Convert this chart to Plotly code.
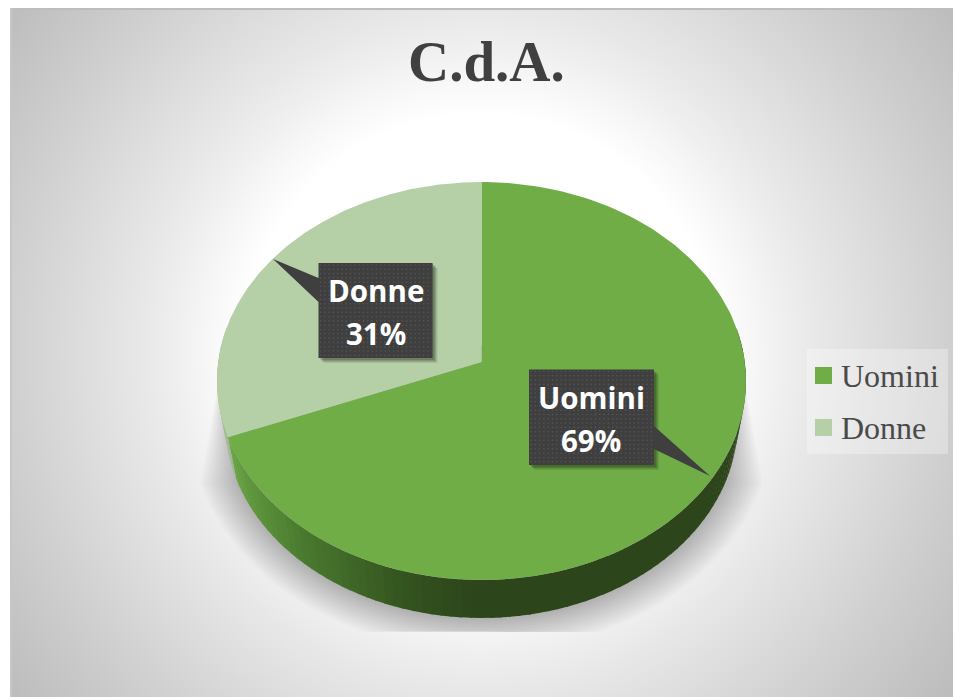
import base64
import numpy as np
import plotly.graph_objects as go

# ---- data ----
categories = ["Uomini", "Donne"]
shares = [69, 31]
slice_colors = ["#70ad47", "#b5d0a7"]
chart_title = "C.d.A."

# ---- pie geometry (pixel-like axes; tilted projection of a circle) ----
CX, CY, RX, RY = 481.5, 381.0, 264.5, 199.0
PERSP = 0.0955
BCY, BRX, BRY = 423.0, 256.0, 195.0


def rim(t_deg, cy=CY, rx=RX, ry=RY):
    t = np.radians(np.asarray(t_deg, dtype=float))
    u, v = np.sin(t), np.cos(t)
    w = 1 + PERSP * v
    x = CX + rx * np.sqrt(1 - PERSP ** 2) * u / w
    y = cy - ry * (v + PERSP) / w
    return x, y


def centre():
    return CX, CY - RY * PERSP


angles = np.cumsum([0] + [s / sum(shares) * 360 for s in shares])
fig = go.Figure()


def poly(x, y, color):
    fig.add_trace(go.Scatter(x=list(x), y=list(y), mode="lines", fill="toself",
                             fillcolor=color, line=dict(width=0),
                             hoverinfo="skip", showlegend=False))


# ---- legend panel ----
poly([807, 948, 948, 807, 807], [349, 349, 454, 454, 349], "rgba(255,255,255,0.3)")

# ---- soft shadow under the disc: wedges at both sides that merge into a lower arc ----
SH_TOP_Y, SH_KNEE_Y, SH_FLOOR_Y = 345, 483, 632
for f in np.linspace(1, 0.02, 24):
    ry = BRY + 34 * f
    half = (CX - (240 - 40 * f))
    dy = SH_KNEE_Y - BCY
    rx = half / np.sqrt(1 - (dy / ry) ** 2)
    t0 = np.arcsin(dy / ry)
    th = np.linspace(t0, np.pi - t0, 160)
    ax = CX + rx * np.cos(th)
    ay = BCY + ry * np.sin(th)
    sx = np.r_[CX + 257, ax, CX - 257, CX + 257]
    sy = np.r_[SH_TOP_Y, np.minimum(ay, SH_FLOOR_Y), SH_TOP_Y, SH_TOP_Y]
    poly(sx, sy, "rgba(0,0,0,0.0118)")

# ---- side wall ----
wall_stops_x = [225, 245, 300, 400, 480, 950]
wall_stops = np.array([[0x6e, 0xa8, 0x47], [0x60, 0x98, 0x3e], [0x4a, 0x7a, 0x2f],
                       [0x34, 0x55, 0x20], [0x2c, 0x45, 0x1a], [0x2c, 0x45, 0x1a]])
edges = np.linspace(80, 280, 101)
for a, b in zip(edges[:-1], edges[1:]):
    ts = np.linspace(a, b + 0.3, 4)
    xt, yt = rim(ts)
    xb, yb = rim(ts, BCY, BRX, BRY)
    mid = xt.mean()
    if (a + b) / 2 > angles[1]:
        col = "#9fb892"
    else:
        rgb = [np.interp(mid, wall_stops_x, wall_stops[:, i]) for i in range(3)]
        col = "rgb(%d,%d,%d)" % tuple(rgb)
    poly(np.r_[xt, xb[::-1]], np.r_[yt, yb[::-1]], col)

# ---- top face ----
for i, name in enumerate(categories):
    ts = np.linspace(angles[i], angles[i + 1], 200)
    xs, ys = rim(ts)
    c = centre()
    poly(np.r_[c[0], xs, c[0]], np.r_[c[1], ys, c[1]], slice_colors[i])

# ---- call-outs ----
callouts = {
    "Uomini": dict(box=(529, 369.5, 654, 465), tail=(426, 449), tip=(710, 476), text=591),
    "Donne": dict(box=(318.5, 263, 432.5, 358), tail=(278, 302), tip=(273, 259), text=375.5),
}
for i, name in enumerate(categories):
    c = callouts[name]
    x0, y0, x1, y1 = c["box"]
    side = x1 if c["tip"][0] > x1 else x0
    if side == x1:
        px = [x0, x1, x1, c["tip"][0], x1, x1, x0, x0]
        py = [y0, y0, c["tail"][0], c["tip"][1], c["tail"][1], y1, y1, y0]
    else:
        px = [x0, x1, x1, x0, x0, c["tip"][0], x0, x0]
        py = [y0, y0, y1, y1, c["tail"][1], c["tip"][1], c["tail"][0], y0]
    for off, al in [(5, 0.10), (4, 0.12), (3, 0.16), (2, 0.2)]:
        poly([p + off for p in [x0, x1, x1, x0, x0]],
             [p + off for p in [y0, y0, y1, y1, y0]], "rgba(30,40,20,%g)" % al)
    poly(px, py, "#3f3f3f")
    gx, gy = np.meshgrid(np.arange(x0 + 2, x1, 4.3), np.arange(y0 + 2, y1, 4.3))
    fig.add_trace(go.Scatter(x=gx.ravel(), y=gy.ravel(), mode="markers",
                             marker=dict(size=1.6, color="#565656", line=dict(width=0)),
                             hoverinfo="skip", showlegend=False))
    fig.add_annotation(x=c["text"], y=y0 + 27.5, text="<b>%s</b>" % name, showarrow=False,
                       font=dict(family="Open Sans", size=29.5, color="white"),
                       xanchor="center", yanchor="middle")
    fig.add_annotation(x=c["text"], y=y0 + 70.5, text="<b>%d%%</b>" % shares[i], showarrow=False,
                       font=dict(family="Open Sans", size=29.5, color="white"),
                       xanchor="center", yanchor="middle")

# ---- legend ----
legend_y = [375.5, 427.5]
fig.add_trace(go.Scatter(x=[823.5, 823.5], y=legend_y, mode="markers",
                         marker=dict(symbol="square", size=17, color=slice_colors, line=dict(width=0)),
                         hoverinfo="skip", showlegend=False))
for name, y in zip(categories, legend_y):
    fig.add_annotation(x=838.5, y=y, text=name, showarrow=False, xanchor="left", yanchor="middle",
                       font=dict(family="Liberation Serif", size=32, color="#4a4a4a"))

# ---- title ----
fig.add_annotation(x=486.5, y=61, text="<b>%s</b>" % chart_title, showarrow=False,
                   xanchor="center", yanchor="middle",
                   font=dict(family="Liberation Serif", size=57, color="#404040"))

# ---- background ----
stops = [(0, "#ffffff"), (235, "#ffffff"), (280, "#f5f5f5"), (300, "#f0f0f0"),
         (338, "#e8e8e8"), (468, "#d0d0d0"), (580, "#bdbdbd")]
stop_svg = "".join('<stop offset="%.4f" stop-color="%s"/>' % (r / 580, col) for r, col in stops)
svg = ('<svg xmlns="http://www.w3.org/2000/svg" width="943" height="689" preserveAspectRatio="none">'
       '<defs><radialGradient id="g" gradientUnits="userSpaceOnUse" cx="470" cy="342" r="580">'
       + stop_svg +
       '</radialGradient></defs><rect width="943" height="689" fill="url(#g)"/></svg>')
bg = "data:image/svg+xml;base64," + base64.b64encode(svg.encode()).decode()

fig.update_layout(
    width=953, height=697, margin=dict(l=0, r=0, t=0, b=0),
    paper_bgcolor="white", plot_bgcolor="rgba(0,0,0,0)", showlegend=False,
    xaxis=dict(range=[0, 953], visible=False, fixedrange=True),
    yaxis=dict(range=[697, 0], visible=False, fixedrange=True),
    images=[dict(source=bg, xref="x", yref="y", x=10, y=8, sizex=943, sizey=689,
                 xanchor="left", yanchor="top", sizing="stretch", layer="below")],
    shapes=[
        dict(type="line", x0=10, x1=953, y0=9, y1=9, line=dict(color="#bdbdbd", width=2), layer="above"),
        dict(type="line", x0=11, x1=11, y0=8, y1=697, line=dict(color="#c6c6c6", width=2), layer="above"),
    ],
)

fig.write_html("out.html", config=dict(displayModeBar=False),
               post_script="document.body.style.margin='0';document.body.style.overflow='hidden';")
